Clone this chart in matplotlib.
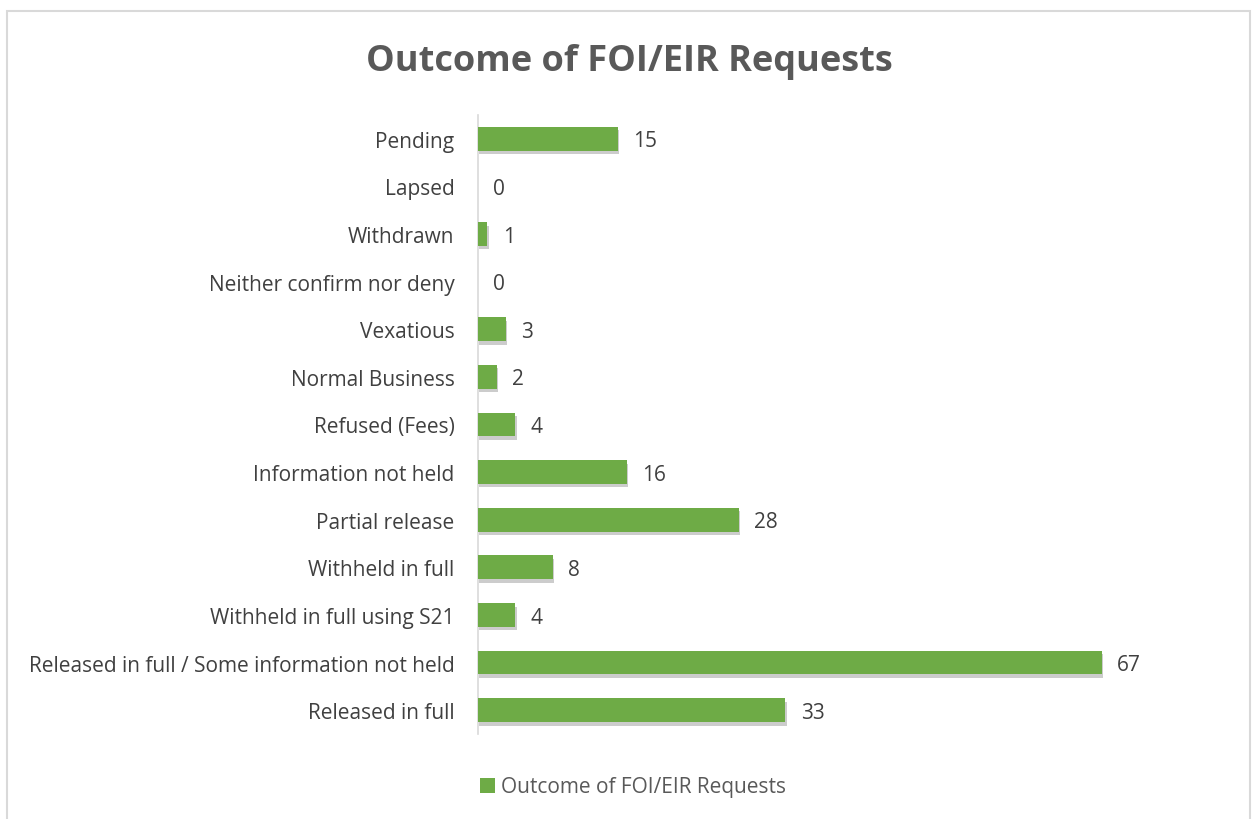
import matplotlib
matplotlib.use("Agg")
import matplotlib.pyplot as plt
import matplotlib.patheffects as pe
from matplotlib.patches import Rectangle, Patch

categories = [
    "Pending",
    "Lapsed",
    "Withdrawn",
    "Neither confirm nor deny",
    "Vexatious",
    "Normal Business",
    "Refused (Fees)",
    "Information not held",
    "Partial release",
    "Withheld in full",
    "Withheld in full using S21",
    "Released in full / Some information not held",
    "Released in full",
]
values = [15, 0, 1, 0, 3, 2, 4, 16, 28, 8, 4, 67, 33]
series_name = "Outcome of FOI/EIR Requests"
title = "Outcome of FOI/EIR Requests"

plt.rcParams['font.family'] = ['Open Sans', 'DejaVu Sans']

W, H = 1252, 820
fig = plt.figure(figsize=(W / 100, H / 100), dpi=100)
fig.patch.set_facecolor("white")

# outer chart border
fig.patches.append(Rectangle((7 / W, -0.01), (1250 - 7) / W, (H - 11.5) / H + 0.01,
                             transform=fig.transFigure, fill=False,
                             edgecolor="#D9D9D9", linewidth=1.5))

left_px, right_px = 478, 478 + 80 * (1102 - 478) / 67
top_px, bottom_px = 116, 735
ax = fig.add_axes([left_px / W, 1 - bottom_px / H, (right_px - left_px) / W, (bottom_px - top_px) / H])

y = list(range(len(categories)))
bars = ax.barh(y, values, height=0.5, color="#6EAB46", zorder=3)
for b in bars:
    b.set_path_effects([pe.SimplePatchShadow(offset=(1, -2.5), shadow_rgbFace="#000000", alpha=0.2), pe.Normal()])

ax.set_ylim(len(categories) - 0.5, -0.5)
ax.set_xlim(0, 80)
ax.set_yticks(y)
ax.set_yticklabels(categories, fontsize=15, color="#404040")
ax.tick_params(axis="y", length=0, pad=17)
ax.set_xticks([])
for s in ["top", "right", "bottom"]:
    ax.spines[s].set_visible(False)
ax.spines["left"].set_color("#D9D9D9")
ax.spines["left"].set_linewidth(1.2)

for yi, v in zip(y, values):
    ax.annotate(str(v), (v, yi), xytext=(11, -1.5), textcoords="offset points",
                va="center", ha="left", fontsize=15, color="#404040")

fig.text(629 / W, 1 - 62 / H, title, ha="center", va="center", fontsize=26,
         fontweight="bold", color="#595959")

fig.legend(handles=[Patch(facecolor="#6EAB46", label=series_name)],
           loc="center", bbox_to_anchor=(633 / W, 1 - 788 / H), frameon=False,
           fontsize=15, labelcolor="#595959", handlelength=0.75, handleheight=0.75,
           handletextpad=0.3)

fig.savefig("out.png", dpi=100, facecolor="white")
